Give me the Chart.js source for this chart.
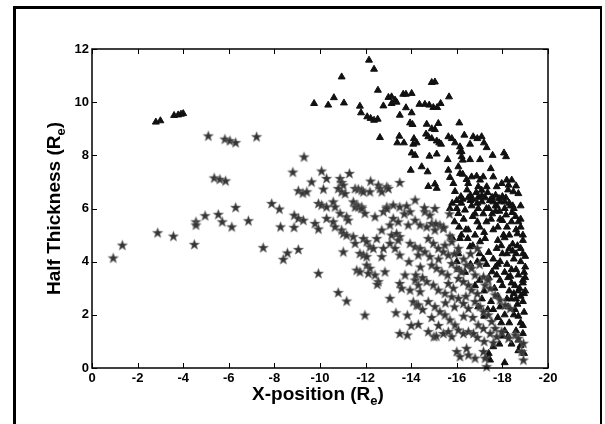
<!DOCTYPE html>
<html>
<head>
<meta charset="utf-8">
<script src="https://cdn.jsdelivr.net/npm/chart.js@4.4.1/dist/chart.umd.min.js"></script>
<style>
  html, body { margin: 0; padding: 0; background: #fff; }
  #caixa { position: relative; width: 605px; height: 424px; }
</style>
</head>
<body>
<div id="caixa"><canvas id="grafico" width="605" height="424"></canvas></div>
<script>
// triangulos pretos (x, y)
var triX = [-2.8, -3.0, -3.6, -3.78, -3.9, -4.0,
  -12.15, -12.37, -10.95, -14.9, -15.04,
  -9.74, -10.36, -10.61, -11.05, -11.75, -11.8, -12.07, -12.22, -12.37, -12.53, -12.54, -12.78, -13.0, -13.14, -13.29, -13.14, -13.36, -13.65, -13.77, -14.02, -13.77, -14.02, -13.5, -13.95, -14.06, -14.36, -14.6, -14.79, -14.97, -15.14, -15.29, -15.66, -16.11, -14.68, -14.9, -15.19, -15.04,
  -12.63, -13.48, -13.39, -13.68, -14.12, -14.24, -14.65, -14.75, -14.9, -15.12, -15.23, -15.31, -15.63, -15.78, -16.33, -16.72, -16.9, -17.09, -17.19, -17.31, -15.92, -16.14, -16.21, -16.58, -14.09, -14.02, -14.17, -14.8, -15.12, -15.6, -16.14, -16.21, -16.26, -16.58, -17.02, -17.57, -18.07, -18.16,
  -13.98, -14.46, -14.72, -14.75, -15.04, -15.12, -15.63, -15.85, -15.7, -15.92, -16.07, -16.14, -16.26, -16.43, -16.5, -16.65, -16.87, -17.02, -17.16, -16.94, -17.09, -17.31, -17.49, -17.6, -17.75, -17.97, -18.19, -18.27, -18.41, -18.48, -18.7,
  -16.18, -16.25, -16.5, -16.6, -16.94, -17.1, -17.25, -17.55, -17.7, -17.85, -18.0, -18.15,
  -15.8, -16.0, -16.2, -16.6, -16.7, -16.9, -17.1, -17.45, -17.6, -17.75, -18.1, -18.3, -18.45,
  -16.0, -16.07, -16.36, -16.65, -16.8, -16.94, -17.16, -17.4, -17.55, -17.7, -17.87, -18.1, -18.16, -18.36, -18.43, -18.58, -18.7, -18.8, -18.66,
  -16.14, -16.48, -16.58, -16.8, -17.02, -17.24, -17.4, -17.17, -17.3, -17.6, -17.75, -17.95, -18.1, -18.3, -18.45, -18.66, -18.9, -18.5, -18.8, -18.95,
  -17.55, -17.75, -17.9, -18.1, -18.25, -18.4, -18.55, -18.7, -18.8, -18.66, -18.4, -18.25, -18.1, -18.55, -18.7, -18.8, -18.6, -17.65, -17.8, -17.5, -17.36, -17.2, -17.1, -16.94, -17.95, -18.1, -18.25, -17.87, -18.7, -18.8, -18.7, -17.4, -17.46, -17.3, -18.1,
  -16.07, -16.0, -16.36, -16.6, -16.1,
  -15.9, -16.1, -15.8, -16.3, -15.7, -16.5, -17.0, -17.3, -17.8, -18.0, -18.9, -19.0, -18.9, -19.0, -18.95, -18.9, -18.45, -18.2, -17.8, -18.6,
  -17.3, -17.5, -17.7, -17.9, -18.2, -18.4, -18.6, -18.8, -18.9, -17.6, -17.8, -18.0, -18.3, -18.6, -18.8, -17.9, -18.2, -18.4, -18.7, -18.9,
  -17.7, -17.4, -18.0, -18.3, -18.5, -18.9, -17.9, -18.2, -18.5, -18.9, -18.3, -18.0, -17.6, -18.4, -18.95, -17.2, -16.9, -16.7, -16.4, -16.2,
  -17.0, -16.9, -16.7, -18.05, -18.5, -18.8, -18.6, -18.25, -17.9, -17.35, -16.85, -16.45, -17.0, -17.2, -16.8, -17.6, -17.8, -18.6, -18.35, -18.75, -19.0, -19.0, -18.95];
var triY = [9.25, 9.3, 9.5, 9.52, 9.55, 9.57,
  11.58, 11.24, 10.95, 10.74, 10.76,
  9.95, 9.89, 10.17, 9.97, 9.85, 9.6, 9.45, 9.39, 9.32, 9.36, 10.45, 9.86, 10.18, 10.2, 10.08, 9.95, 10.0, 10.3, 10.3, 10.33, 9.79, 9.6, 9.51, 9.22, 9.16, 9.92, 9.92, 9.89, 9.8, 9.8, 9.95, 10.2, 9.22, 9.17, 9.0, 9.2, 8.97,
  8.67, 8.72, 8.47, 8.47, 8.63, 8.47, 8.8, 8.7, 8.63, 8.54, 8.47, 8.42, 8.7, 8.63, 8.76, 8.7, 8.63, 8.7, 8.47, 8.29, 8.47, 8.32, 8.14, 8.42, 8.42, 8.09, 8.0, 7.97, 8.05, 7.84, 8.13, 7.95, 7.82, 7.84, 7.84, 8.0, 8.09, 7.95,
  7.44, 7.57, 7.38, 6.83, 6.92, 6.76, 7.44, 6.94, 7.17, 6.64, 7.57, 7.32, 7.29, 7.09, 6.94, 7.19, 7.22, 7.07, 7.19, 6.82, 6.69, 6.82, 7.5, 7.19, 6.82, 6.94, 7.07, 6.88, 7.07, 6.63, 6.56,
  6.45, 6.35, 6.4, 6.5, 6.42, 6.48, 6.4, 6.42, 6.5, 6.38, 6.45, 6.4,
  6.2, 6.3, 6.2, 6.3, 6.35, 6.2, 6.25, 6.3, 6.25, 6.1, 6.25, 6.2, 6.1,
  6.0, 5.81, 5.94, 6.1, 5.8, 6.0, 5.8, 6.0, 5.8, 6.1, 5.9, 6.0, 5.76, 6.1, 5.85, 5.7, 5.5, 5.3, 5.05,
  4.87, 4.87, 4.56, 5.0, 4.75, 4.87, 4.35, 4.1, 3.9, 4.1, 4.5, 4.6, 4.9, 5.0, 4.66, 4.6, 4.8, 4.1, 4.0, 3.6,
  3.62, 3.5, 3.3, 3.6, 3.4, 3.2, 3.1, 2.9, 2.7, 2.4, 2.6, 2.3, 2.0, 2.2, 1.95, 1.7, 1.4, 3.0, 2.7, 2.5, 2.2, 1.95, 2.6, 2.3, 1.7, 1.4, 1.2, 0.9, 1.05, 0.85, 0.65, 0.55, 0.3, 0.4, 0.2,
  4.3, 4.0, 3.6, 3.9, 3.7,
  5.5, 5.3, 4.9, 5.6, 6.0, 5.2, 5.3, 5.5, 5.3, 5.55, 4.3, 3.8, 3.3, 2.9, 2.1, 1.6, 4.4, 4.3, 3.9, 3.7,
  6.0, 5.6, 5.9, 5.6, 5.3, 5.5, 5.2, 5.6, 5.0, 5.2, 4.8, 4.3, 4.5, 4.3, 4.5, 4.0, 3.9, 3.7, 3.5, 3.2,
  3.8, 3.4, 3.1, 2.9, 2.8, 2.5, 2.3, 2.6, 2.0, 1.3, 1.7, 1.2, 0.8, 0.9, 0.55, 5.1, 5.5, 5.7, 5.2, 5.0,
  4.3, 4.0, 4.6, 5.0, 6.0, 6.1, 6.85, 6.7, 6.25, 6.6, 6.6, 6.7, 3.3, 2.9, 3.1, 2.2, 1.9, 2.6, 3.45, 3.0, 4.2, 3.4, 2.8];

// estrelas cinzas (x, y)
var estX = [-0.93, -1.33, -2.88, -3.57, -4.49, -4.56, -4.56, -4.96, -5.54, -5.71, -6.13, -6.3, -6.86, -7.51, -7.88, -8.22, -8.27, -8.39, -8.57, -8.87, -8.86, -9.05, -9.05, -9.05, -5.1, -5.83, -6.05, -6.3, -7.22, -5.36, -5.61, -5.86, -8.81, -9.25,
  -9.3, -10.07, -9.63, -9.42, -10.29, -10.15, -10.88, -10.95, -11.02, -11.29, -10.8, -10.95, -11.1, -11.54, -11.68, -11.83, -11.9, -12.19, -12.22, -12.56, -12.63, -12.71, -12.93, -13.0, -13.5, -14.17, -9.93, -10.07, -10.29, -10.58, -10.66, -11.46, -11.61, -11.83, -12.93, -13.21, -13.5, -13.8,
  -9.27, -9.78, -9.93, -10.29, -10.58, -10.66, -10.88, -11.17, -11.24, -10.95, -11.02, -11.17, -11.54, -11.68, -11.83, -11.97, -11.46, -11.54, -11.9, -12.05, -12.19, -12.34, -12.49, -12.71, -12.41, -12.78, -12.93, -13.07, -13.21, -13.43, -13.14, -13.36, -13.5, -13.43, -13.07, -13.29, -12.78, -12.71, -11.75, -11.9, -12.05, -11.02, -9.93, -11.61, -11.75, -12.05, -12.19, -12.12, -12.41, -12.56, -12.51, -12.85, -13.73, -13.5, -13.58, -13.95, -14.17, -14.31, -14.39, -13.07, -14.09, -14.24, -14.31, -10.8, -11.17, -11.97, -13.33, -13.83, -14.31, -13.5, -13.83, -13.95, -14.17, -14.39, -13.87, -13.95, -14.17, -14.39, -14.31, -13.5,
  -14.9, -15.04, -15.26, -15.41, -15.7, -14.75, -14.97, -15.19, -15.41, -15.63, -14.6, -14.82, -14.9, -15.12, -15.34, -15.78, -16.0, -16.21, -16.43, -16.65, -16.8, -16.07, -16.29, -16.51, -16.65, -14.68, -14.97, -15.19, -15.48, -15.63, -15.85, -15.78, -16.07, -16.29, -16.51, -16.8, -17.02, -17.17, -17.38, -17.53, -17.68, -14.75, -15.04, -15.26, -15.48, -15.7, -15.92, -16.07, -16.29, -16.51, -16.73, -14.75, -15.0, -15.41, -15.63, -15.78, -16.94, -17.17, -17.46, -17.75, -17.97, -18.27, -18.56, -18.7, -18.92, -16.0, -16.14, -16.43, -16.51, -16.8, -17.17, -17.24, -17.31, -18.85, -18.92, -17.24, -17.46, -17.68, -17.9, -18.12, -18.34, -17.17, -17.38, -15.48, -15.78, -16.07, -14.6, -14.82, -15.04, -14.68, -15.42, -15.68, -15.08, -14.58, -13.7,
  -13.9, -14.4, -14.2, -14.5, -15.6, -15.2, -15.9, -16.3, -16.6, -16.9, -17.0, -16.9, -16.4, -15.9, -15.5, -15.2, -14.9, -14.5, -14.0, -16.7, -16.3, -17.2, -16.9, -17.6, -15.1];
var estY = [4.14, 4.62, 5.09, 4.96, 4.65, 5.5, 5.38, 5.73, 5.78, 5.5, 5.31, 6.04, 5.54, 4.53, 6.19, 5.98, 5.31, 4.09, 4.33, 5.75, 5.29, 6.67, 5.63, 4.46, 8.73, 8.61, 8.55, 8.48, 8.7, 7.15, 7.1, 7.04, 7.37, 6.58,
  7.94, 7.41, 7.0, 6.63, 7.13, 6.73, 7.13, 6.98, 6.88, 7.32, 6.75, 6.63, 6.56, 6.75, 6.73, 6.69, 6.63, 6.63, 7.03, 6.88, 6.75, 6.63, 6.82, 6.75, 6.98, 6.32, 6.19, 6.13, 6.06, 6.25, 6.06, 6.25, 6.13, 6.06, 6.06, 6.13, 6.06, 6.1,
  5.56, 5.44, 5.23, 5.63, 5.5, 5.31, 5.82, 5.69, 5.56, 5.19, 5.06, 5.0, 6.06, 6.06, 6.0, 5.82, 4.94, 4.69, 4.87, 4.75, 4.56, 4.5, 4.87, 5.19, 5.69, 5.88, 6.0, 5.38, 5.63, 5.5, 5.0, 5.06, 4.94, 4.81, 4.69, 4.5, 4.5, 4.19, 4.31, 4.25, 4.19, 4.37, 3.56, 3.68, 3.62, 3.87, 3.75, 3.56, 3.5, 3.25, 3.15, 3.62, 3.5, 3.18, 3.0, 2.93, 3.31, 3.12, 2.87, 2.62, 2.49, 2.37, 2.37, 2.84, 2.52, 1.99, 2.08, 1.99, 1.64, 1.3, 1.24, 5.88, 5.56, 5.38, 5.38, 4.69, 4.56, 4.5, 4.25, 4.25,
  5.44, 5.19, 5.38, 5.25, 4.97, 4.87, 4.69, 4.5, 4.37, 4.25, 4.37, 4.19, 3.87, 3.75, 3.62, 3.93, 3.75, 3.62, 3.87, 3.75, 3.5, 3.37, 3.25, 3.12, 2.93, 3.25, 3.12, 2.93, 2.81, 3.18, 3.0, 2.68, 2.62, 2.43, 2.24, 2.5, 2.31, 2.12, 2.0, 1.75, 1.49, 2.5, 2.31, 2.12, 2.0, 1.81, 1.62, 1.43, 1.3, 1.37, 1.3, 1.37, 1.18, 1.3, 1.37, 1.18, 1.62, 1.49, 1.3, 1.18, 1.37, 1.12, 1.24, 1.12, 0.93, 0.62, 0.43, 0.74, 0.49, 0.37, 0.62, 0.37, 0.05, 0.62, 0.3, 3.12, 3.0, 2.75, 2.56, 2.37, 2.24, 3.43, 3.31, 4.62, 4.75, 4.5, 5.88, 5.75, 6.0, 5.31, 5.3, 5.8, 5.43, 6.03, 5.8,
  4.0, 3.8, 3.5, 3.4, 3.5, 4.1, 4.3, 4.1, 4.3, 4.5, 3.9, 2.8, 2.7, 2.3, 2.45, 1.6, 1.9, 2.2, 1.6, 1.9, 1.95, 1.0, 1.15, 0.95, 1.2];

// eixos e titulos
var eixoX = { min: -20, max: 0, passo: 2 };
var eixoY = { min: 0, max: 12, passo: 2 };
var tituloX = ['X-position (R', 'e', ')'];
var tituloY = ['Half Thickness (R', 'e', ')'];

function juntar(xs, ys) {
  var pts = [];
  for (var i = 0; i < xs.length; i++) pts.push({ x: xs[i], y: ys[i] });
  return pts;
}

// estrela de 5 pontas desenhada num canvas pequeno (o 'star' do Chart.js e so linhas)
function criarEstrela() {
  var c = document.createElement('canvas');
  c.width = 13; c.height = 13;
  var g = c.getContext('2d');
  g.beginPath();
  for (var i = 0; i < 10; i++) {
    var r = i % 2 == 0 ? 5.3 : 2.2;
    var a = -Math.PI / 2 + i * Math.PI / 5;
    var px = 6.5 + r * Math.cos(a), py = 6.9 + r * Math.sin(a);
    if (i == 0) g.moveTo(px, py); else g.lineTo(px, py);
  }
  g.closePath();
  g.fillStyle = '#353535';
  g.fill();
  g.strokeStyle = 'rgba(110,110,110,0.9)';
  g.lineWidth = 0.6;
  g.stroke();
  return c;
}

// texto com subscrito (R_e)
function textoIndice(ctx, partes, x, y, rot) {
  var fonteG = 'bold 19px "Liberation Sans", Arial, sans-serif';
  var fonteP = 'bold 13px "Liberation Sans", Arial, sans-serif';
  ctx.save();
  ctx.translate(x, y);
  ctx.rotate(rot);
  ctx.font = fonteG; var w1 = ctx.measureText(partes[0]).width; var w3 = ctx.measureText(partes[2]).width;
  ctx.font = fonteP; var w2 = ctx.measureText(partes[1]).width;
  var ini = -(w1 + w2 + w3) / 2;
  ctx.fillStyle = '#000';
  ctx.textBaseline = 'alphabetic';
  ctx.textAlign = 'left';
  ctx.font = fonteG; ctx.fillText(partes[0], ini, 0);
  ctx.font = fonteP; ctx.fillText(partes[1], ini + w1, 5);
  ctx.font = fonteG; ctx.fillText(partes[2], ini + w1 + w2, 0);
  ctx.restore();
}

const moldura = {
  id: 'moldura',
  beforeDraw(chart) {
    const ctx = chart.ctx;
    ctx.save();
    ctx.fillStyle = '#fff';
    ctx.fillRect(0, 0, chart.width, chart.height);
    ctx.restore();
  },
  afterDraw(chart) {
    const ctx = chart.ctx;
    const a = chart.chartArea;
    const sx = chart.scales.x, sy = chart.scales.y;
    ctx.save();
    // moldura externa
    ctx.fillStyle = '#000';
    ctx.fillRect(13, 6, 3, chart.height);
    ctx.fillRect(13, 6, 588, 3);
    ctx.fillRect(600, 6, 2, chart.height);
    // caixa dos eixos
    ctx.strokeStyle = '#000';
    ctx.lineWidth = 1.5;
    ctx.strokeRect(a.left, a.top, a.right - a.left, a.bottom - a.top);
    // marcas para dentro nos 4 lados
    ctx.lineWidth = 1;
    ctx.beginPath();
    sx.ticks.forEach(function (t) {
      var px = Math.round(sx.getPixelForValue(t.value)) + 0.5;
      ctx.moveTo(px, a.bottom); ctx.lineTo(px, a.bottom - 5);
      ctx.moveTo(px, a.top); ctx.lineTo(px, a.top + 5);
    });
    sy.ticks.forEach(function (t) {
      var py = Math.round(sy.getPixelForValue(t.value)) + 0.5;
      ctx.moveTo(a.left, py); ctx.lineTo(a.left + 5, py);
      ctx.moveTo(a.right, py); ctx.lineTo(a.right - 5, py);
    });
    ctx.stroke();
    ctx.restore();
    // titulos dos eixos
    textoIndice(ctx, tituloX, (a.left + a.right) / 2 - 2, 400, 0);
    textoIndice(ctx, tituloY, 60, (a.top + a.bottom) / 2, -Math.PI / 2);
  }
};

const fonteTicks = { family: '"Liberation Sans", Arial, sans-serif', size: 13, weight: 'bold' };

new Chart(document.getElementById('grafico'), {
  type: 'scatter',
  data: {
    datasets: [
      {
        label: 'estrelas',
        data: juntar(estX, estY),
        pointStyle: criarEstrela(),
        pointRadius: 5,
        clip: false
      },
      {
        label: 'triangulos',
        data: juntar(triX, triY),
        pointStyle: 'triangle',
        pointRadius: 4,
        backgroundColor: '#111',
        borderColor: '#111',
        borderWidth: 1,
        clip: false
      }
    ]
  },
  options: {
    responsive: false,
    animation: false,
    devicePixelRatio: 1,
    layout: { padding: { left: 0, top: 49, right: 57, bottom: 0 } },
    plugins: { legend: { display: false }, tooltip: { enabled: false } },
    scales: {
      x: {
        type: 'linear',
        reverse: true,
        min: eixoX.min,
        max: eixoX.max,
        afterFit: function (s) { s.height = 56; },
        grid: { display: false, drawTicks: false },
        border: { display: false },
        ticks: { stepSize: eixoX.passo, color: '#000', font: fonteTicks, padding: 3, maxRotation: 0 }
      },
      y: {
        type: 'linear',
        min: eixoY.min,
        max: eixoY.max,
        afterFit: function (s) { s.width = 92; },
        grid: { display: false, drawTicks: false },
        border: { display: false },
        ticks: { stepSize: eixoY.passo, color: '#000', font: fonteTicks, padding: 3 }
      }
    }
  },
  plugins: [moldura]
});
</script>
</body>
</html>
